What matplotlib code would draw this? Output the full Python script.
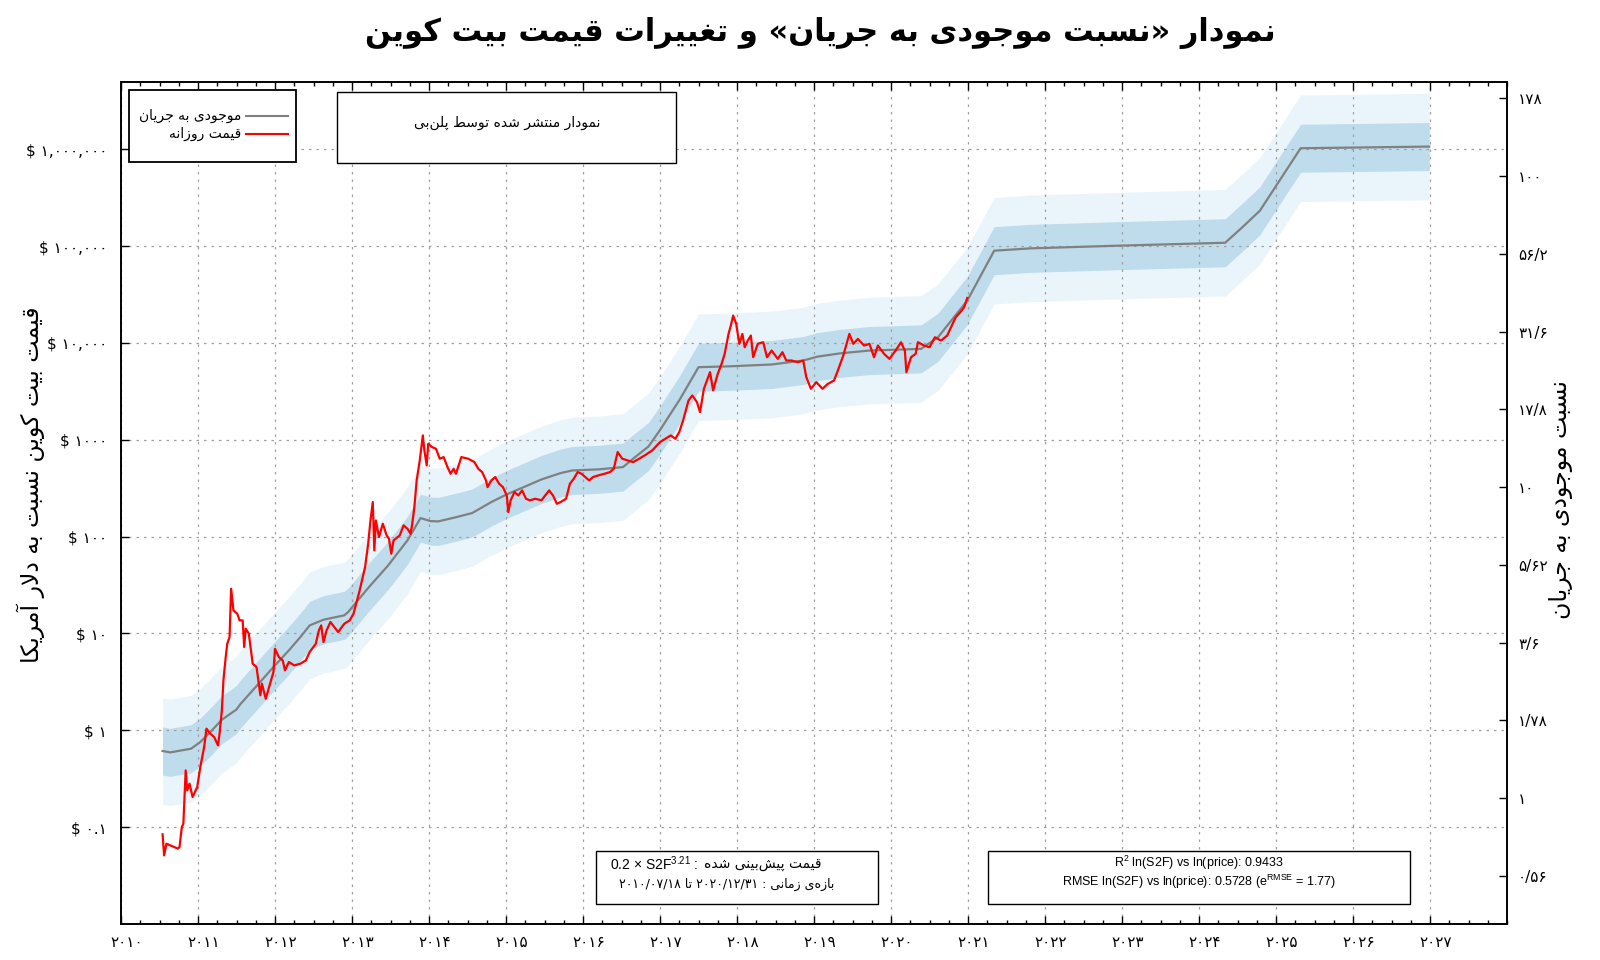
import numpy as np
import matplotlib
matplotlib.use("Agg")
import matplotlib.pyplot as plt
from matplotlib.ticker import FixedLocator, MultipleLocator, NullLocator
from matplotlib.patches import Rectangle
from matplotlib.lines import Line2D
from matplotlib.text import Annotation
import matplotlib.transforms as mtransforms

# ---- data ----
# stock-to-flow model price (log10 USD) by decimal year
model_years = [2010.54, 2010.64, 2010.91, 2011.03, 2011.16, 2011.31, 2011.50, 2011.55, 2011.73,
               2011.98, 2012.18, 2012.33, 2012.45, 2012.63, 2012.90, 2012.95, 2013.22, 2013.47,
               2013.72, 2013.89, 2014.02, 2014.12, 2014.36, 2014.56, 2014.81, 2015.01, 2015.21,
               2015.46, 2015.71, 2015.86, 2016.20, 2016.52, 2016.66, 2016.85, 2017.00, 2017.26,
               2017.50, 2017.93, 2018.45, 2018.86, 2019.05, 2019.35, 2019.72, 2020.39, 2020.61,
               2020.99, 2021.34, 2021.81, 2022.92, 2024.34, 2024.56, 2024.79, 2025.32, 2026.99]
model_log10 = [-0.214, -0.228, -0.19, -0.121, -0.018, 0.109, 0.215, 0.27, 0.43,
               0.653, 0.825, 0.963, 1.083, 1.142, 1.187, 1.221, 1.479, 1.703,
               1.961, 2.191, 2.160, 2.157, 2.202, 2.243, 2.357, 2.436, 2.504,
               2.59, 2.656, 2.683, 2.694, 2.718, 2.81, 2.93, 3.10, 3.42,
               3.749, 3.759, 3.777, 3.818, 3.859, 3.893, 3.921, 3.938, 4.058,
               4.436, 4.952, 4.976, 5.003, 5.034, 5.192, 5.364, 6.01, 6.027]

# daily bitcoin price (log10 USD), 2010/07/18 - 2020/12/31
price_years = [2010.54, 2010.56, 2010.59, 2010.64, 2010.69, 2010.74, 2010.76, 2010.79, 2010.81, 2010.84,
               2010.86, 2010.89, 2010.93, 2010.99, 2011.03, 2011.08, 2011.11, 2011.16, 2011.21, 2011.26,
               2011.28, 2011.31, 2011.33, 2011.36, 2011.38, 2011.41, 2011.43, 2011.46, 2011.51, 2011.54,
               2011.58, 2011.60, 2011.62, 2011.66, 2011.71, 2011.76, 2011.81, 2011.83, 2011.88, 2011.93,
               2011.98, 2012.00, 2012.05, 2012.10, 2012.13, 2012.18, 2012.25, 2012.33, 2012.40, 2012.45,
               2012.53, 2012.57, 2012.60, 2012.63, 2012.67, 2012.72, 2012.77, 2012.82, 2012.90, 2012.97,
               2013.02, 2013.10, 2013.17, 2013.21, 2013.24, 2013.27, 2013.29, 2013.31, 2013.35, 2013.40,
               2013.45, 2013.48, 2013.51, 2013.54, 2013.62, 2013.67, 2013.72, 2013.76, 2013.78, 2013.81,
               2013.84, 2013.88, 2013.92, 2013.94, 2013.97, 2013.99, 2014.04, 2014.09, 2014.14, 2014.19,
               2014.24, 2014.28, 2014.32, 2014.35, 2014.42, 2014.51, 2014.59, 2014.64, 2014.69, 2014.74,
               2014.76, 2014.81, 2014.86, 2014.91, 2014.96, 2015.01, 2015.03, 2015.06, 2015.11, 2015.16,
               2015.21, 2015.26, 2015.31, 2015.38, 2015.46, 2015.51, 2015.56, 2015.61, 2015.66, 2015.71,
               2015.78, 2015.83, 2015.88, 2015.93, 2015.98, 2016.03, 2016.08, 2016.13, 2016.20, 2016.28,
               2016.35, 2016.40, 2016.45, 2016.51, 2016.58, 2016.65, 2016.73, 2016.80, 2016.90, 2017.00,
               2017.07, 2017.14, 2017.20, 2017.25, 2017.30, 2017.37, 2017.42, 2017.48, 2017.52, 2017.57,
               2017.65, 2017.69, 2017.75, 2017.80, 2017.84, 2017.89, 2017.92, 2017.95, 2017.99, 2018.03,
               2018.07, 2018.10, 2018.14, 2018.18, 2018.21, 2018.27, 2018.34, 2018.39, 2018.45, 2018.53,
               2018.59, 2018.64, 2018.71, 2018.79, 2018.86, 2018.90, 2018.96, 2019.03, 2019.11, 2019.18,
               2019.26, 2019.31, 2019.38, 2019.46, 2019.51, 2019.57, 2019.65, 2019.72, 2019.78, 2019.83,
               2019.91, 2019.98, 2020.06, 2020.13, 2020.18, 2020.20, 2020.26, 2020.32, 2020.35, 2020.43,
               2020.50, 2020.57, 2020.65, 2020.73, 2020.78, 2020.84, 2020.90, 2020.95, 2020.99]
price_log10 = [-1.074, -1.291, -1.171, -1.188, -1.205, -1.222, -1.205, -0.999, -0.964, -0.414,
               -0.62, -0.551, -0.689, -0.586, -0.379, -0.173, 0.017, -0.035, -0.07, -0.156,
               -0.035, 0.206, 0.515, 0.756, 0.894, 0.963, 1.462, 1.238, 1.204, 1.135,
               1.135, 0.86, 1.049, 0.997, 0.688, 0.653, 0.361, 0.481, 0.326, 0.464,
               0.602, 0.842, 0.756, 0.722, 0.619, 0.705, 0.670, 0.688, 0.722, 0.808,
               0.894, 1.032, 1.083, 0.911, 1.032, 1.118, 1.066, 1.014, 1.10, 1.135,
               1.204, 1.445, 1.686, 1.926, 2.167, 2.357, 1.857, 2.167, 1.995, 2.133,
               2.012, 1.978, 1.823, 1.961, 2.012, 2.116, 2.081, 2.03, 2.116, 2.305,
               2.58, 2.787, 3.045, 2.89, 2.735, 2.959, 2.924, 2.907, 2.804, 2.821,
               2.718, 2.649, 2.70, 2.649, 2.821, 2.804, 2.769, 2.70, 2.666, 2.58,
               2.511, 2.58, 2.615, 2.546, 2.511, 2.425, 2.253, 2.374, 2.46, 2.425,
               2.477, 2.391, 2.374, 2.391, 2.374, 2.425, 2.477, 2.425, 2.339, 2.357,
               2.391, 2.546, 2.597, 2.666, 2.649, 2.615, 2.58, 2.615, 2.632, 2.649,
               2.666, 2.70, 2.873, 2.804, 2.787, 2.769, 2.804, 2.838, 2.89, 2.976,
               3.01, 3.045, 3.01, 3.079, 3.199, 3.405, 3.457, 3.388, 3.285, 3.526,
               3.698, 3.509, 3.68, 3.784, 3.887, 4.093, 4.179, 4.282, 4.196, 3.99,
               4.093, 3.955, 4.024, 4.076, 3.852, 3.99, 4.007, 3.852, 3.921, 3.835,
               3.904, 3.818, 3.818, 3.801, 3.818, 3.646, 3.526, 3.595, 3.526, 3.577,
               3.612, 3.715, 3.869, 4.093, 3.99, 4.041, 3.973, 3.99, 3.852, 3.973,
               3.887, 3.835, 3.921, 4.007, 3.921, 3.698, 3.852, 3.887, 4.007, 3.973,
               3.955, 4.058, 4.024, 4.076, 4.162, 4.265, 4.316, 4.368, 4.464]

# model constants printed on the chart
s2f_coef = 0.2
s2f_exp = 3.21
rmse_factor = 1.77      # e^RMSE
outer_factor = 3.55     # outer band

price_ticks = [0.1, 1, 10, 100, 1000, 1e4, 1e5, 1e6]
price_labels = ["$ ۰.۱", "$ ۱", "$ ۱۰", "$ ۱۰۰", "$ ۱۰۰۰", "$ ۱۰,۰۰۰", "$ ۱۰۰,۰۰۰", "$ ۱,۰۰۰,۰۰۰"]
s2f_ticks = [0.56, 1, 1.78, 3.16, 5.62, 10, 17.8, 31.6, 56.2, 100, 178]
s2f_labels = ["۰/۵۶", "۱", "۱/۷۸", "۳/۶", "۵/۶۲", "۱۰", "۱۷/۸", "۳۱/۶", "۵۶/۲", "۱۰۰", "۱۷۸"]
year_ticks = list(range(2010, 2028))

# ---- minimal Persian shaping (matplotlib has no bidi / joining) ----
FORMS = {
    "ا": ("ﺍ", "ﺎ", None, None), "آ": ("ﺁ", "ﺂ", None, None),
    "د": ("ﺩ", "ﺪ", None, None), "ذ": ("ﺫ", "ﺬ", None, None),
    "ر": ("ﺭ", "ﺮ", None, None), "ز": ("ﺯ", "ﺰ", None, None),
    "ژ": ("ﮊ", "ﮋ", None, None), "و": ("ﻭ", "ﻮ", None, None),
    "ب": ("ﺏ", "ﺐ", "ﺑ", "ﺒ"), "پ": ("ﭖ", "ﭗ", "ﭘ", "ﭙ"),
    "ت": ("ﺕ", "ﺖ", "ﺗ", "ﺘ"), "ج": ("ﺝ", "ﺞ", "ﺟ", "ﺠ"),
    "س": ("ﺱ", "ﺲ", "ﺳ", "ﺴ"), "ش": ("ﺵ", "ﺶ", "ﺷ", "ﺸ"),
    "ط": ("ﻁ", "ﻂ", "ﻃ", "ﻄ"), "غ": ("ﻍ", "ﻎ", "ﻏ", "ﻐ"),
    "ق": ("ﻕ", "ﻖ", "ﻗ", "ﻘ"), "ک": ("ﮎ", "ﮏ", "ﮐ", "ﮑ"),
    "ل": ("ﻝ", "ﻞ", "ﻟ", "ﻠ"), "م": ("ﻡ", "ﻢ", "ﻣ", "ﻤ"),
    "ن": ("ﻥ", "ﻦ", "ﻧ", "ﻨ"), "ه": ("ﻩ", "ﻪ", "ﻫ", "ﻬ"),
    "ی": ("ﯼ", "ﯽ", "ﯾ", "ﯿ"),
}
MIRROR = {"(": ")", ")": "(", "«": "»", "»": "«"}
FA_DIGITS = "۰۱۲۳۴۵۶۷۸۹"


def fa(s):
    return s.translate(str.maketrans("0123456789", FA_DIGITS))


def is_ltr_core(ch):
    return (ch.isascii() and ch.isalnum()) or ch in FA_DIGITS


def rtl(text):
    chars = list(text)
    n = len(chars)
    out = []
    i = 0
    while i < n:
        c = chars[i]
        if c not in FORMS:
            if c != "\u200c":
                out.append(c)
            i += 1
            continue
        prev = chars[i - 1] if i > 0 else None
        nxt = chars[i + 1] if i + 1 < n else None
        p = prev in FORMS and FORMS[prev][2] is not None
        if c == "ل" and nxt in ("ا", "آ"):
            lig = {"ا": ("ﻻ", "ﻼ"), "آ": ("ﻵ", "ﻶ")}[nxt]
            out.append(lig[1] if p else lig[0])
            i += 2
            continue
        nx = FORMS[c][2] is not None and nxt in FORMS
        f = FORMS[c]
        out.append(f[3] if p and nx else f[1] if p else f[2] if nx else f[0])
        i += 1

    def is_ltr(k):
        ch = out[k]
        if is_ltr_core(ch):
            return True
        if ch in "/.,":
            return 0 < k < len(out) - 1 and is_ltr_core(out[k - 1]) and is_ltr_core(out[k + 1])
        return False

    runs = []
    for k, ch in enumerate(out):
        l = is_ltr(k)
        if runs and runs[-1][0] == l:
            runs[-1][1].append(ch)
        else:
            runs.append([l, [ch]])
    vis = []
    for l, cs in reversed(runs):
        if l:
            vis.append("".join(cs))
        else:
            vis.append("".join(MIRROR.get(ch, ch) for ch in reversed(cs)))
    return "".join(vis)


FA = ["DejaVu Sans"]
LAT = ["Liberation Sans", "DejaVu Sans"]
plt.rcParams["mathtext.fontset"] = "custom"
plt.rcParams["mathtext.rm"] = "Liberation Sans"

# ---- figure ----
W, H = 1600, 960
fig = plt.figure(figsize=(16, 9.6), dpi=100)
ax = fig.add_axes([121 / W, 1 - 924 / H, (1507 - 121) / W, (924 - 81.5) / H])

my = np.array(model_years)
model = 10 ** np.array(model_log10)
ax.fill_between(my, model / outer_factor, model * outer_factor, color="#eaf5fb", lw=0, zorder=1)
ax.fill_between(my, model / rmse_factor, model * rmse_factor, color="#bedcec", lw=0, zorder=1.1)
ax.plot(my, model, color="#808080", lw=1.6, zorder=3)
ax.plot(price_years, 10 ** np.array(price_log10), color="#ff0000", lw=1.6, zorder=4)

ax.set_yscale("log")
ax.set_ylim(0.01, 5e6)
ax.set_xlim(2010, 2028)
ax.yaxis.set_major_locator(FixedLocator(price_ticks))
ax.yaxis.set_minor_locator(NullLocator())
ax.set_yticklabels(price_labels, family=FA, fontsize=11)
ax.xaxis.set_major_locator(FixedLocator(year_ticks))
ax.xaxis.set_minor_locator(MultipleLocator(0.25))
ax.set_xticklabels([fa(str(y)) for y in year_ticks], family=FA, fontsize=11)
ax.tick_params(axis="both", which="major", direction="in", length=6, width=1, top=True, right=True)
ax.tick_params(axis="x", which="minor", direction="in", length=3, width=1, top=True)
ax.tick_params(axis="x", pad=8)
ax.tick_params(axis="y", pad=10)
offset = mtransforms.ScaledTranslation(6 / 100, 0, fig.dpi_scale_trans)
for lab in ax.get_xticklabels():
    lab.set_transform(lab.get_transform() + offset)

ax.grid(True, which="major", color="#a0a0a0", linestyle=(0, (2, 4)), lw=0.9)
ax.set_axisbelow("line")
for sp in ax.spines.values():
    sp.set_linewidth(1.2)

# right axis: stock-to-flow aligned so that price = 0.2 * S2F^3.21
ax2 = ax.twinx()
ax2.set_yscale("log")
lo, hi = ax.get_ylim()
ax2.set_ylim((lo / s2f_coef) ** (1 / s2f_exp), (hi / s2f_coef) ** (1 / s2f_exp))
ax2.yaxis.set_major_locator(FixedLocator(s2f_ticks))
ax2.yaxis.set_minor_locator(NullLocator())
ax2.set_yticklabels(s2f_labels, family=FA, fontsize=11)
ax2.tick_params(axis="y", direction="in", length=6, width=1, pad=8)
for sp in ax2.spines.values():
    sp.set_linewidth(1.2)

# ---- texts ----
fig.text(820 / W, 1 - 33 / H, rtl("نمودار «نسبت موجودی به جریان» و تغییرات قیمت بیت کوین"),
         family=FA, fontsize=22, fontweight="bold", ha="center", va="center")
fig.text(31 / W, 1 - 485 / H, rtl("قیمت بیت کوین نسبت به دلار آمریکا"),
         family=FA, fontsize=17, rotation=90, ha="center", va="center")
fig.text(1561 / W, 1 - 500 / H, rtl("نسبت موجودی به جریان"),
         family=FA, fontsize=17, rotation=90, ha="center", va="center")


def box(x0, y0, x1, y1, lw=1.0):
    fig.patches.append(Rectangle((x0 / W, 1 - y1 / H), (x1 - x0) / W, (y1 - y0) / H,
                                 transform=fig.transFigure, fill=True, facecolor="white",
                                 edgecolor="black", lw=lw, zorder=5))


# legend
box(129, 90, 296, 162, lw=1.3)
for yy, lab, col in [(116, "موجودی به جریان", "#808080"), (134, "قیمت روزانه", "#ff0000")]:
    fig.text(241 / W, 1 - yy / H, rtl(lab), family=FA, fontsize=10, ha="right", va="center", zorder=6)
    fig.add_artist(Line2D([246 / W, 288 / W], [1 - yy / H, 1 - yy / H], color=col, lw=1.5,
                          transform=fig.transFigure, zorder=6))

# credit box
box(337, 92, 676, 163)
fig.text(507 / W, 1 - 123 / H, rtl("نمودار منتشر شده توسط پلن‌بی"), family=FA, fontsize=10,
         ha="center", va="center", zorder=6)

# prediction / period box
box(596, 851, 878, 904)
t_fa = fig.text(821 / W, 1 - 864 / H, rtl("قیمت پیش‌بینی شده"),
                family=FA, fontsize=10, ha="right", va="center", zorder=6)
fig.add_artist(Annotation(r"0.2 × S2F$^{3.21}$ :", xy=(0, 0.5), xycoords=t_fa,
                          xytext=(-4, 0), textcoords="offset points",
                          ha="right", va="center", family=LAT, fontsize=10, zorder=6))
fig.text(834 / W, 1 - 884 / H, "۲۰۱۰/۰۷/۱۸ " + rtl("تا") + " ۲۰۲۰/۱۲/۳۱ : " + rtl("بازه‌ی زمانی"),
         family=FA, fontsize=9, ha="right", va="center", zorder=6)

# fit statistics box
box(988, 851, 1410, 904)
fig.text(1199 / W, 1 - 863 / H, r"R$^2$ ln(S2F) vs ln(price): 0.9433",
         family=LAT, fontsize=9, ha="center", va="center", zorder=6)
fig.text(1199 / W, 1 - 882 / H, r"RMSE ln(S2F) vs ln(price): 0.5728 (e$^{\rm RMSE}$ = 1.77)",
         family=LAT, fontsize=9, ha="center", va="center", zorder=6)

fig.savefig("out.png", dpi=100)
